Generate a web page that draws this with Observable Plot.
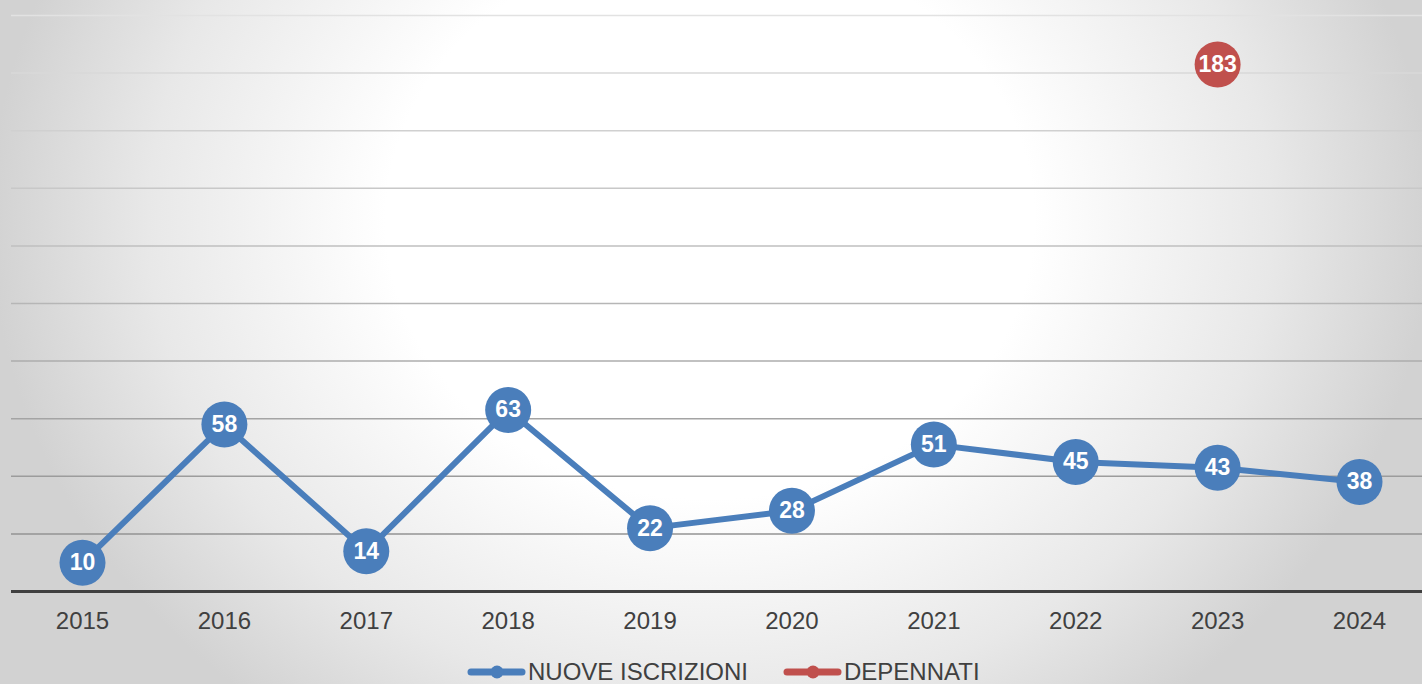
<!DOCTYPE html>
<html>
<head>
<meta charset="utf-8">
<script src="https://cdn.jsdelivr.net/npm/d3@7"></script>
<script src="https://cdn.jsdelivr.net/npm/@observablehq/plot@0.6"></script>
<style>
  html, body { margin: 0; padding: 0; width: 1422px; height: 684px; overflow: hidden; }
  body {
    position: relative;
    background: radial-gradient(ellipse 720px 620px at 710px 220px, #ffffff 0%, #ffffff 45%, #e8e8e8 78%, #d2d2d2 100%);
    font-family: "Liberation Sans", Arial, sans-serif;
  }
  .lg { position: absolute; top: 658px; font-size: 24px; line-height: 1.15; color: #404040; white-space: nowrap; }
  .lgm { position: absolute; top: 664px; }
</style>
</head>
<body>
<div id="chart"></div>
<div id="legend"></div>
<script>
const years = ["2015","2016","2017","2018","2019","2020","2021","2022","2023","2024"];
const nuoveIscrizioni = [10, 58, 14, 63, 22, 28, 51, 45, 43, 38];
const depennati = [null, null, null, null, null, null, null, null, 183, null];
const gridTicks = [20, 40, 60, 80, 100, 120, 140, 160, 180, 200];
const seriesNames = ["NUOVE ISCRIZIONI", "DEPENNATI"];
const seriesColors = ["#4a7ebb", "#c0504d"];

const blue = years.map((y, i) => ({year: y, value: nuoveIscrizioni[i]}));
const red = years.map((y, i) => ({year: y, value: depennati[i]})).filter(d => d.value != null);

const gridColor = d3.interpolateRgb("#8a8a8a", "#e2e2e2");

const chart = Plot.plot({
  width: 1422,
  height: 645,
  marginLeft: 11,
  marginRight: 0,
  marginTop: 15,
  marginBottom: 54,
  style: {background: "transparent", fontFamily: "Liberation Sans, Arial, sans-serif"},
  x: {type: "point", domain: years, range: [82, 1359], padding: 0, round: false, label: null},
  y: {domain: [0, 200], label: null, axis: null},
  marks: [
    Plot.ruleY(gridTicks, {stroke: d => gridColor(d / 200), strokeWidth: 1.5}),
    Plot.ruleY([0], {stroke: "#404040", strokeWidth: 3}),
    Plot.axisX({tickSize: 0, tickPadding: 20, fontSize: 24, color: "#404040", fill: "#404040", stroke: null}),
    Plot.line(blue, {x: "year", y: "value", stroke: seriesColors[0], strokeWidth: 6}),
    Plot.dot(blue, {x: "year", y: "value", r: 23, fill: seriesColors[0], stroke: null}),
    Plot.text(blue, {x: "year", y: "value", text: d => String(d.value), fill: "white", fontSize: 23, fontWeight: "bold"}),
    Plot.dot(red, {x: "year", y: "value", r: 23, fill: seriesColors[1], stroke: null}),
    Plot.text(red, {x: "year", y: "value", text: d => String(d.value), fill: "white", fontSize: 23, fontWeight: "bold"})
  ]
});
document.getElementById("chart").appendChild(chart);

const legend = document.getElementById("legend");
const markerLeft = [467, 783];
seriesNames.forEach((name, i) => {
  const m = document.createElement("div");
  m.className = "lgm";
  m.style.left = markerLeft[i] + "px";
  m.innerHTML = `<svg width="59" height="16"><line x1="4" y1="8" x2="55" y2="8" stroke="${seriesColors[i]}" stroke-width="7" stroke-linecap="round"/><circle cx="30" cy="8" r="6.5" fill="${seriesColors[i]}"/></svg>`;
  legend.appendChild(m);
  const t = document.createElement("div");
  t.className = "lg";
  t.style.left = (markerLeft[i] + 61) + "px";
  t.textContent = name;
  legend.appendChild(t);
});
</script>
</body>
</html>
